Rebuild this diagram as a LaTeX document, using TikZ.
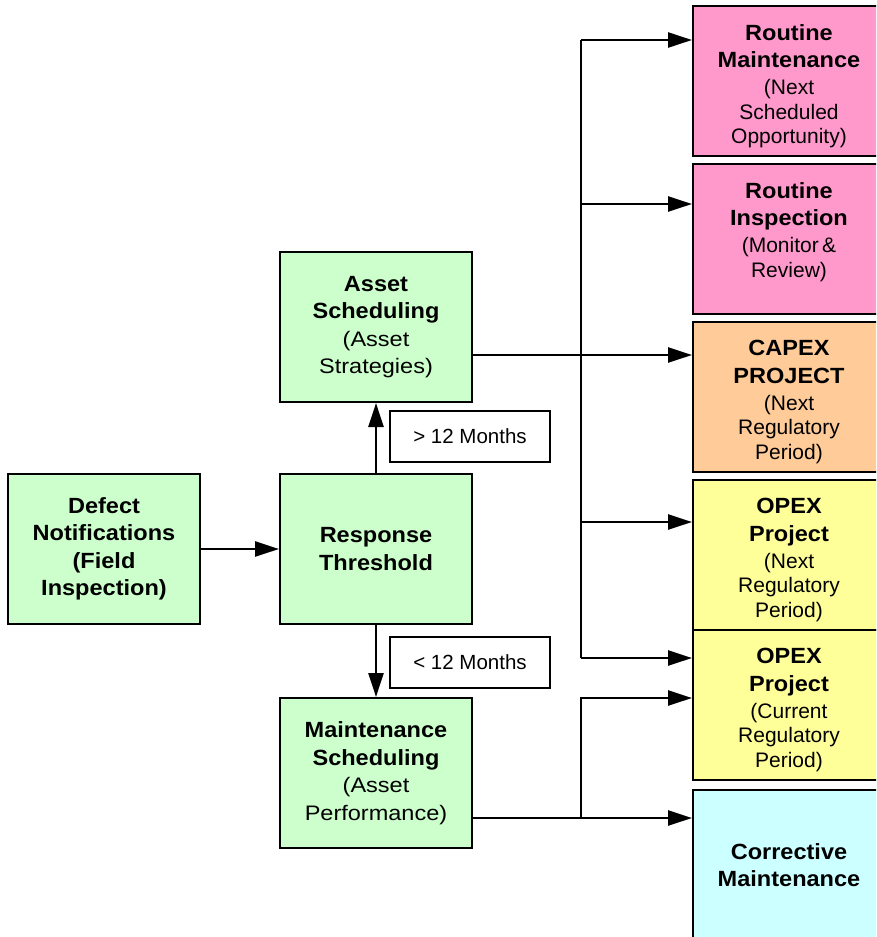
\documentclass[tikz,border=0pt]{standalone}
\usepackage{fontspec}
\setmainfont{Liberation Sans}
% slightly widened faces for the headings and the green-box sub-lines
\newfontfamily\headfont{Liberation Sans}[FakeStretch=1.07]
\newfontfamily\greenfont{Liberation Sans}[FakeStretch=1.12]
\usetikzlibrary{arrows.meta,calc}

\definecolor{boxgreen}{HTML}{CCFFCC}
\definecolor{boxpink}{HTML}{FF99CC}
\definecolor{boxorange}{HTML}{FFCC99}
\definecolor{boxyellow}{HTML}{FFFF99}
\definecolor{boxcyan}{HTML}{CCFFFF}

% bold heading lines and plain sub-lines inside the boxes
\newcommand\headtxt[1]{{\headfont\fontsize{22}{27.5}\selectfont\bfseries #1\par}}
\newcommand\bodytxt[1]{{\vskip2.5pt\fontsize{21}{24.5}\selectfont #1\par}}
\newcommand\greentxt[1]{{\greenfont\fontsize{21}{27.5}\selectfont #1\par}}

\tikzset{
  stagebox/.style={draw, line width=2pt, minimum width=192pt, minimum height=150pt,
    inner sep=0pt, text width=188pt, align=center},
  boxtext/.style={inner sep=0pt, text width=188pt, align=center, anchor=north},
  condbox/.style={draw, fill=white, line width=1.8pt, minimum width=160pt, minimum height=51pt,
    inner sep=0pt, font=\fontsize{20.5}{24}\selectfont},
  link/.style={line width=2.5pt},
  arrowlink/.style={line width=2.5pt, -{Triangle[length=24pt,width=15pt]}},
}

\begin{document}
\begin{tikzpicture}[x=1pt,y=-1pt]
\useasboundingbox (0,0) rectangle (876,937);
\clip (0,0) rectangle (876,937);

% left and middle columns
\node[stagebox, fill=boxgreen] (def) at (104,549)
  {\headtxt{Defect\\Notifications\\(Field\\Inspection)}};
\node[stagebox, fill=boxgreen] (resp) at (376,549)
  {\headtxt{Response\\Threshold}};
\node[stagebox, fill=boxgreen] (asset) at (376,327)
  {\headtxt{Asset\\Scheduling}\greentxt{(Asset\\Strategies)}};
\node[stagebox, fill=boxgreen] (maint) at (376,773)
  {\headtxt{Maintenance\\Scheduling}\greentxt{(Asset\\Performance)}};

\node[condbox] (gt) at (470,436.5) {> 12 Months};
\node[condbox] (lt) at (470,662.5) {< 12 Months};

% outcome column
\node[stagebox, fill=boxpink] (rm) at (789,81) {};
\node[boxtext] at ($(rm.north)+(0,19)$)
  {\headtxt{Routine\\Maintenance}\bodytxt{(Next\\Scheduled\\Opportunity)}};
\node[stagebox, fill=boxpink] (ri) at (789,239) {};
\node[boxtext] at ($(ri.north)+(0,19)$)
  {\headtxt{Routine\\Inspection}\bodytxt{(Monitor \&\\Review)}};
\node[stagebox, fill=boxorange] (capex) at (789,397) {};
\node[boxtext] at ($(capex.north)+(0,19)$)
  {\headtxt{CAPEX\\PROJECT}\bodytxt{(Next\\Regulatory\\Period)}};
\node[stagebox, fill=boxyellow] (opexn) at (789,555) {};
\node[boxtext] at ($(opexn.north)+(0,19)$)
  {\headtxt{OPEX\\Project}\bodytxt{(Next\\Regulatory\\Period)}};
\node[stagebox, fill=boxyellow] (opexc) at (789,705) {};
\node[boxtext] at ($(opexc.north)+(0,19)$)
  {\headtxt{OPEX\\Project}\bodytxt{(Current\\Regulatory\\Period)}};
\node[stagebox, fill=boxcyan] (corr) at (789,865)
  {\headtxt{Corrective\\Maintenance}};

% threshold connectors
\draw[arrowlink] (def) -- (resp);
\draw[arrowlink] (resp.north) -- (asset.south);
\draw[arrowlink] (resp.south) -- (maint.north);

% distribution trunk
\coordinate (t1) at (581,40);
\coordinate (t2) at (581,204);
\coordinate (t3) at (581,522);
\coordinate (t4) at (581,658);
\coordinate (cx) at (581,355);
\coordinate (b0) at (581,818);
\coordinate (b1) at (581,698);

\draw[link] (t1) -- (t4);
\draw[arrowlink] (t1) -- (t1 -| rm.west);
\draw[arrowlink] (t2) -- (t2 -| ri.west);
\draw[arrowlink] (t3) -- (t3 -| opexn.west);
\draw[arrowlink] (t4) -- (t4 -| opexc.west);
\draw[arrowlink] (cx -| asset.east) -- (cx -| capex.west);

\draw[arrowlink] (b0 -| maint.east) -- (b0 -| corr.west);
\draw[arrowlink] (b0) -- (b1) -- (b1 -| opexc.west);
\end{tikzpicture}
\end{document}
